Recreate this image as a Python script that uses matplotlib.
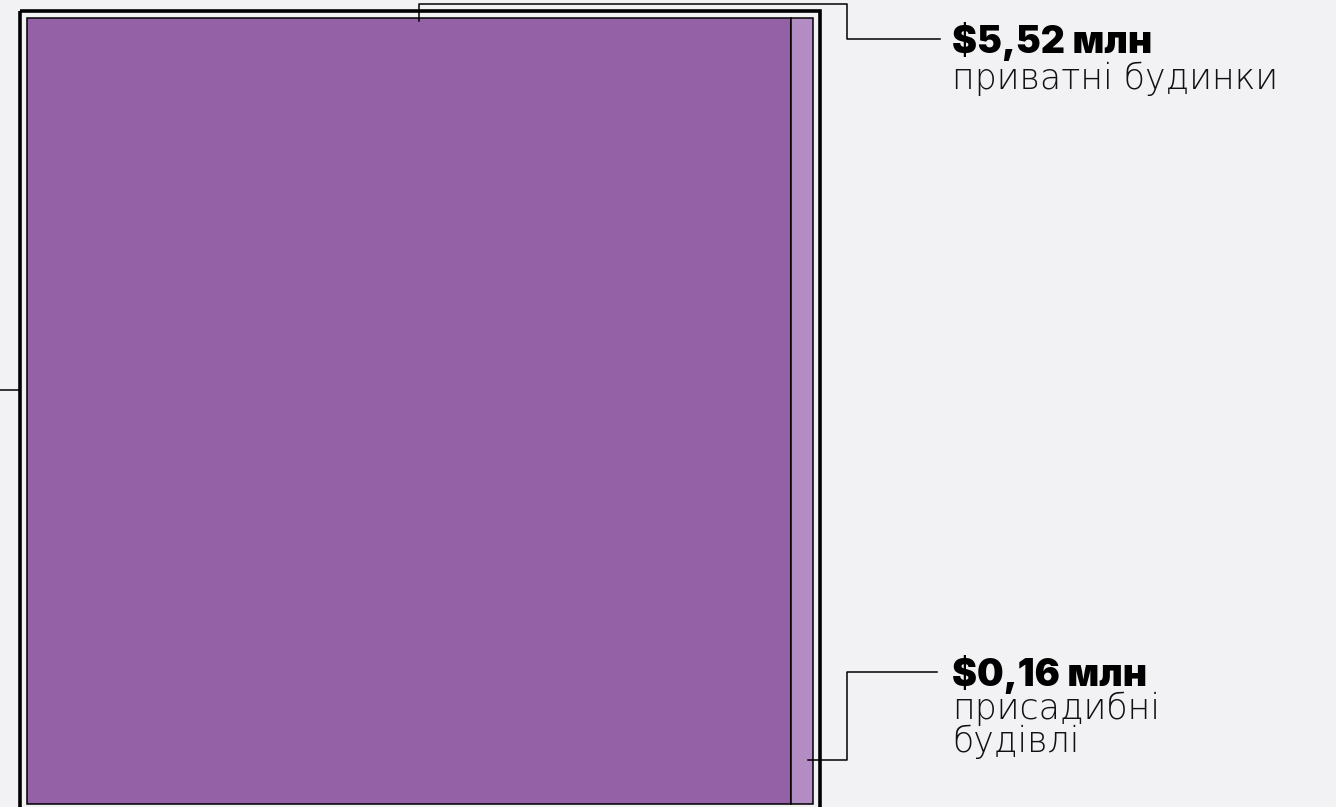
import matplotlib
matplotlib.use("Agg")
import matplotlib.pyplot as plt
from matplotlib.patches import Rectangle

# ---- data ----
categories = ["приватні будинки", "присадибні будівлі"]
values = [5.52, 0.16]  # $ млн
value_labels = ["$5,52 млн", "$0,16 млн"]
name_labels = ["приватні будинки", "присадибні\nбудівлі"]
colors = ["#9461a6", "#b48cc4"]

W, H = 1336, 807
fig = plt.figure(figsize=(W / 100, H / 100), dpi=100)
fig.patch.set_facecolor("#f2f1f3")
ax = fig.add_axes([0, 0, 1, 1])
ax.set_xlim(0, W)
ax.set_ylim(H, 0)
ax.axis("off")

# treemap area (inner box)
x0, y0, side_w, side_h = 26.5, 17.5, 786.5, 786
total = sum(values)
widths = [v / total * side_w for v in values]
lefts = [x0 + sum(widths[:i]) for i in range(len(values))]
ax.bar(lefts, [side_h] * len(values), width=widths, bottom=y0, align="edge",
       color=colors, edgecolor="black", linewidth=1.1, zorder=2)

# outer frame
ax.add_patch(Rectangle((19.5, 10.5), 800.5, 810, fill=False, edgecolor="black",
                       linewidth=2.6, zorder=3, clip_on=False))

lw = 1.1
# leader for big rectangle
cx = lefts[0] + widths[0] * 0.514
ax.plot([cx, cx, 847, 847, 940], [21, 3.5, 3.5, 39, 39], color="black", lw=lw, zorder=4)
# leader for small rectangle
ax.plot([808, 847, 847, 937], [760, 760, 672, 672], color="black", lw=lw, zorder=4)
# leader to the left
ax.plot([0, 19], [390, 390], color="black", lw=lw, zorder=4)

bold_font = dict(family=["Inter", "DejaVu Sans"], fontweight="black", fontsize=27)
light_font = dict(family=["DejaVu Sans"], fontweight=200, fontsize=25)

tx = 952
ax.text(tx, 53, value_labels[0], va="baseline", ha="left", color="black", **bold_font)
ax.text(tx, 89, name_labels[0], va="baseline", ha="left", color="#111111", **light_font)

ax.text(tx, 686, value_labels[1], va="baseline", ha="left", color="black", **bold_font)
ax.text(tx, 719, "присадибні", va="baseline", ha="left", color="#111111", **light_font)
ax.text(tx, 752, "будівлі", va="baseline", ha="left", color="#111111", **light_font)

fig.savefig("out.png", dpi=100, facecolor=fig.get_facecolor())
